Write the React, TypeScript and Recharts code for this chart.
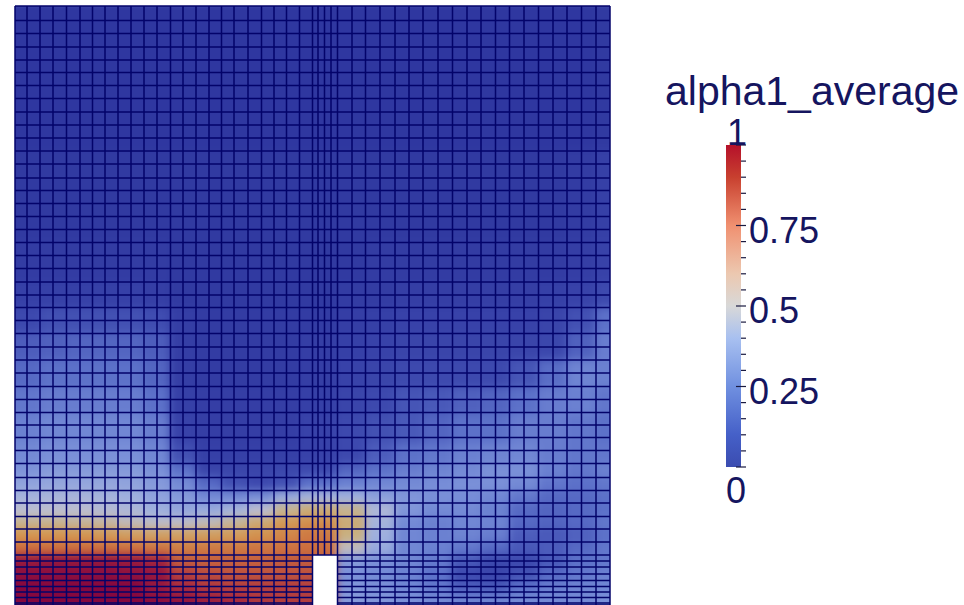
import { BarChart, Bar, ComposedChart, Line, XAxis, YAxis, ReferenceArea, ReferenceLine } from 'recharts';

// mesh lines
const meshX = [15, 27, 40, 53, 66.5, 80, 92.5, 105, 118, 131, 144, 157, 170.5, 183, 196, 209, 221.5, 234, 248, 261.5, 274, 286.5, 299.5, 312.5, 318, 324.5, 331, 337.5, 352, 365.5, 380, 395, 409, 423, 438, 452.5, 467, 481, 495.5, 509.5, 524, 538.5, 553, 567, 581.5, 596, 610];
const meshY = [6, 20.5, 33.5, 47, 60, 72.5, 85.5, 98.5, 112, 125, 138, 151, 164, 178, 190.5, 203.5, 216.5, 229.5, 242.5, 255.5, 268.5, 282, 295, 307.5, 320.5, 333.5, 347, 360, 373, 386.5, 399.5, 412.5, 425, 437.5, 450.5, 463.5, 477.5, 490.5, 503, 516.5, 529, 542, 555];
const fineY = [561, 567, 574, 580.5, 586.5, 592, 597.5, 603, 605];
const frameCorners = [{ x: 0, y: 0 }, { x: 700, y: 700 }];

// blocks of the colour field
const heatColumnEdges = [0, 41, 67, 93, 118, 144, 170, 196, 222, 248, 274, 300, 337, 366, 395, 423, 452, 481, 510, 539, 567, 596, 700];
const heatRowEdges = [0, 150, 240, 282, 308, 333, 360, 388, 415, 444, 464, 477, 491, 504, 517, 529, 542, 555, 568, 581, 594, 700];
const heatRows = [
  [.02, .02, .02, .02, .02, .02, .02, .02, .02, .02, .02, .02, .02, .02, .02, .02, .02, .02, .02, .02, .02, .03],
  [.03, .03, .03, .03, .03, .03, .03, .03, .03, .03, .03, .03, .03, .03, .03, .03, .03, .03, .03, .03, .04, .06],
  [.04, .04, .04, .04, .04, .04, .03, .03, .03, .03, .03, .03, .03, .04, .04, .04, .04, .04, .04, .04, .05, .07],
  [.06, .06, .06, .06, .06, .05, .03, .03, .03, .03, .03, .03, .04, .04, .05, .05, .05, .05, .05, .06, .07, .1],
  [.1, .12, .12, .12, .12, .11, .05, .04, .04, .04, .04, .04, .05, .06, .07, .07, .07, .07, .07, .08, .12, .2],
  [.15, .16, .17, .17, .17, .15, .05, .04, .04, .04, .04, .05, .06, .07, .08, .08, .08, .08, .08, .09, .16, .24],
  [.18, .2, .2, .2, .2, .17, .05, .04, .04, .04, .04, .05, .07, .08, .1, .1, .1, .1, .13, .19, .26, .25],
  [.22, .24, .24, .24, .24, .2, .06, .05, .05, .05, .05, .06, .08, .1, .13, .14, .16, .17, .2, .24, .25, .22],
  [.25, .27, .27, .27, .27, .24, .07, .05, .05, .05, .05, .07, .1, .12, .14, .17, .2, .2, .24, .24, .22, .2],
  [.28, .3, .3, .3, .3, .27, .12, .06, .06, .06, .06, .07, .1, .15, .2, .22, .25, .26, .27, .24, .22, .22],
  [.31, .33, .33, .33, .33, .3, .2, .08, .08, .08, .09, .1, .17, .2, .24, .26, .28, .3, .3, .25, .22, .25],
  [.36, .37, .37, .37, .36, .33, .28, .18, .12, .1, .12, .2, .25, .27, .28, .29, .3, .3, .28, .22, .2, .22],
  [.42, .43, .43, .42, .4, .36, .33, .28, .28, .3, .38, .42, .4, .35, .32, .3, .29, .27, .22, .18, .18, .2],
  [.5, .5, .5, .48, .45, .4, .37, .38, .42, .5, .58, .62, .58, .45, .32, .28, .28, .25, .18, .17, .18, .2],
  [.58, .58, .57, .56, .53, .51, .51, .53, .57, .63, .69, .72, .62, .42, .28, .25, .27, .26, .18, .17, .18, .22],
  [.7, .7, .7, .69, .67, .66, .66, .67, .68, .71, .74, .77, .6, .4, .27, .25, .26, .24, .15, .14, .16, .2],
  [.8, .8, .8, .8, .79, .78, .76, .77, .77, .78, .79, .8, .52, .38, .27, .25, .22, .18, .14, .15, .18, .22],
  [.95, .96, .96, .96, .95, .92, .83, .82, .82, .82, .83, .83, .33, .3, .27, .23, .14, .1, .1, .14, .2, .22],
  [.98, .98, .98, .98, .97, .96, .87, .85, .84, .84, .84, .84, .3, .28, .25, .2, .1, .08, .12, .18, .22, .25],
  [1, 1, 1, 1, 1, .95, .9, .88, .87, .87, .87, .87, .32, .3, .27, .22, .15, .14, .2, .24, .26, .27],
  [1, 1, 1, 1, 1, .98, .96, .93, .9, .88, .87, .87, .33, .32, .3, .28, .26, .26, .28, .28, .28, .3],
];

const scaleTicks = [0, .05, .1, .15, .2, .25, .3, .35, .4, .45, .5, .55, .6, .65, .7, .75, .8, .85, .9, .95, 1];
const scaleLabels = [0, .25, .5, .75, 1];
const scaleData = [{ name: 'alpha1_average', value: 1 }];

const TEXT = '#15155f';
const MESH = '#03036a';
const MESH_WIDTH = 1.5;

// colours of the cells as they look under the mesh
const cellRamp = [[44, 51, 156], [61, 73, 174], [92, 113, 201], [122, 144, 216], [159, 176, 222], [188, 189, 208], [201, 176, 128], [212, 150, 80], [204, 110, 62], [168, 42, 62], [134, 8, 62]];
const barStops = [
  ['0%', '#b5102a'], ['10%', '#c8402f'], ['25%', '#f09070'], ['40%', '#ecc8b0'], ['50%', '#d8d8d8'],
  ['60%', '#a8c0f0'], ['75%', '#7090e0'], ['90%', '#4560c8'], ['100%', '#3b4cb0'],
];

function cellColor(v: number) {
  const p = Math.min(v * 10, 9.999);
  const i = Math.floor(p);
  const t = p - i;
  const c = cellRamp[i].map((a, k) => Math.round(a + (cellRamp[i + 1][k] - a) * t));
  return `rgb(${c[0]},${c[1]},${c[2]})`;
}

function ScaleTick({ x, y, payload }: any) {
  const v = payload.value;
  const labelled = scaleLabels.includes(v);
  const major = v === .25 || v === .5 || v === .75;
  return (
    <g>
      <line x1={x - (labelled ? 5 : 0)} x2={x + 5} y1={y} y2={y} stroke="#1a1a40" strokeWidth={1.2} />
      {major && (
        <text x={x + 8} y={y + 17} fontSize={36} fill={TEXT} fontFamily="Liberation Sans">{String(v)}</text>
      )}
      {v === 1 && (
        <text x={x - 14} y={y} fontSize={36} fill={TEXT} fontFamily="Liberation Sans">1</text>
      )}
      {v === 0 && (
        <text x={x - 15} y={y + 36} fontSize={36} fill={TEXT} fontFamily="Liberation Sans">0</text>
      )}
    </g>
  );
}

export default function App() {
  return (
    <div style={{ position: 'absolute', left: 0, top: 0, width: 964, height: 605, background: '#fff', overflow: 'hidden' }}>
      {/* colour field, softened, clipped to the mesh box */}
      <div style={{ position: 'absolute', left: 15, top: 6, width: 595, height: 599, overflow: 'hidden' }}>
        <div style={{ position: 'absolute', left: -15, top: -6, filter: 'blur(4px)' }}>
          <ComposedChart width={700} height={700} data={frameCorners} margin={{ top: 0, right: 0, bottom: 0, left: 0 }}>
            <XAxis type="number" dataKey="x" domain={[0, 700]} hide />
            <YAxis type="number" dataKey="y" domain={[0, 700]} reversed hide />
            <Line dataKey="y" stroke="none" dot={false} isAnimationActive={false} />
            {heatRows.map((row, r) =>
              row.map((v, c) => (
                <ReferenceArea
                  key={`${r}-${c}`}
                  x1={heatColumnEdges[c]}
                  x2={heatColumnEdges[c + 1]}
                  y1={heatRowEdges[r]}
                  y2={heatRowEdges[r + 1]}
                  fill={cellColor(v)}
                  fillOpacity={1}
                  stroke={cellColor(v)}
                />
              ))
            )}
          </ComposedChart>
        </div>
      </div>

      {/* mesh */}
      <div style={{ position: 'absolute', left: 0, top: 0 }}>
        <ComposedChart width={700} height={605} data={frameCorners} margin={{ top: 0, right: 0, bottom: 0, left: 0 }}>
          <XAxis type="number" dataKey="x" domain={[0, 700]} hide />
          <YAxis type="number" dataKey="y" domain={[0, 605]} reversed hide allowDataOverflow />
          <Line dataKey="y" stroke="none" dot={false} isAnimationActive={false} />
          <ReferenceArea x1={313} x2={337} y1={555} y2={605} fill="#fff" fillOpacity={1} stroke="none" />
          {meshX.map((x) => {
            const stopsAtStep = x > 313 && x < 337;
            return (
              <ReferenceLine
                key={`v${x}`}
                segment={[{ x, y: 6 }, { x, y: stopsAtStep ? 555 : 605 }]}
                stroke={MESH}
                strokeWidth={MESH_WIDTH}
              />
            );
          })}
          {meshY.map((y) => (
            <ReferenceLine key={`h${y}`} segment={[{ x: 15, y }, { x: 610, y }]} stroke={MESH} strokeWidth={MESH_WIDTH} />
          ))}
          {fineY.map((y) => (
            <ReferenceLine key={`l${y}`} segment={[{ x: 15, y }, { x: 313, y }]} stroke={MESH} strokeWidth={MESH_WIDTH} />
          ))}
          {fineY.map((y) => (
            <ReferenceLine key={`r${y}`} segment={[{ x: 337, y }, { x: 610, y }]} stroke={MESH} strokeWidth={MESH_WIDTH} />
          ))}
        </ComposedChart>
      </div>

      <div style={{ position: 'absolute', left: 665, top: 68, fontFamily: 'Liberation Sans', fontSize: 41, color: TEXT, whiteSpace: 'nowrap', lineHeight: '46px' }}>
        alpha1_average
      </div>

      {/* colour scale */}
      <div style={{ position: 'absolute', left: 700, top: 100 }}>
        <BarChart
          width={260}
          height={420}
          data={scaleData}
          barCategoryGap={0}
          margin={{ top: 45, right: 0, bottom: 53, left: 26 }}
        >
          <defs>
            <linearGradient id="scaleFill" x1="0" y1="0" x2="0" y2="1">
              {barStops.map(([offset, color]) => (
                <stop key={offset} offset={offset} stopColor={color} />
              ))}
            </linearGradient>
          </defs>
          <XAxis dataKey="name" hide />
          <YAxis
            orientation="right"
            width={219}
            domain={[0, 1]}
            ticks={scaleTicks}
            interval={0}
            axisLine={false}
            tickLine={false}
            tickSize={0}
            tickMargin={0}
            tick={<ScaleTick />}
          />
          <Bar dataKey="value" fill="url(#scaleFill)" isAnimationActive={false} />
        </BarChart>
      </div>
    </div>
  );
}
